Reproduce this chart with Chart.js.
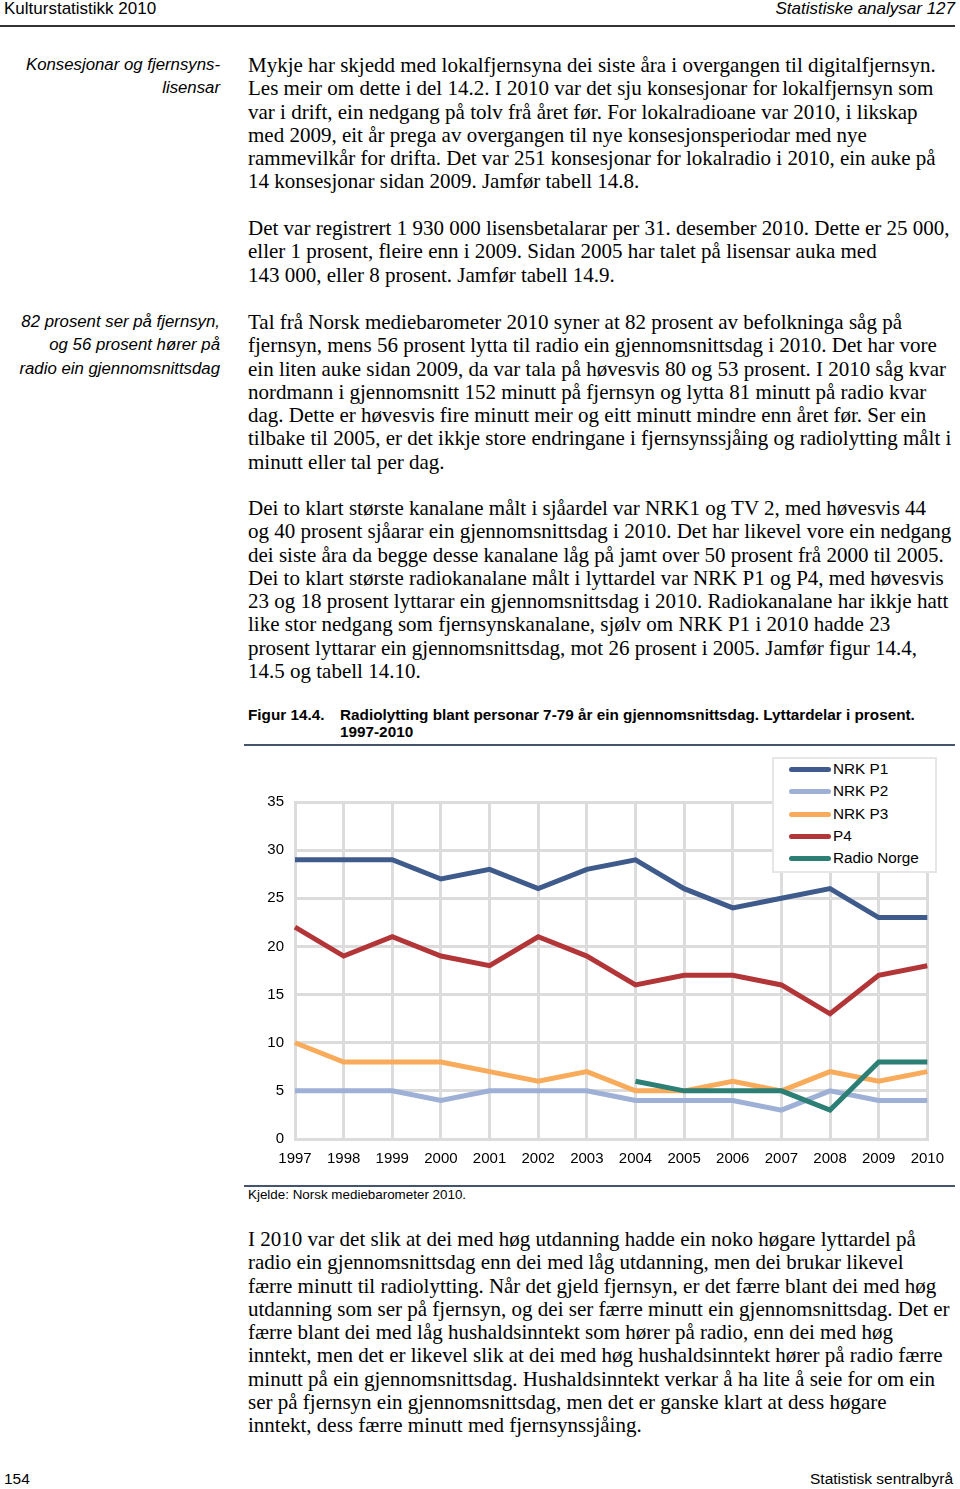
<!DOCTYPE html>
<html>
<head>
<meta charset="utf-8">
<script src="https://cdn.jsdelivr.net/npm/chart.js@4/dist/chart.umd.min.js"></script>
<style>
  html, body { margin: 0; padding: 0; background: #fff; }
  body { width: 960px; height: 1489px; position: relative; overflow: hidden; color: #000; }
  .hdr { position: absolute; top: 0; font: 17px "Liberation Sans Narrow", "Arial Narrow", "Liberation Sans", Arial, sans-serif; line-height: 17px; }
  .rule { position: absolute; left: 0; width: 955px; height: 2px; background: #333; }
  .body { position: absolute; left: 248px; font: 21px "Liberation Serif", "Times New Roman", serif; line-height: 23.3px; white-space: nowrap; }
  .note { position: absolute; right: 740px; text-align: right; font: italic 16.8px "Liberation Sans", Arial, sans-serif; line-height: 23.3px; white-space: nowrap; }
  .figtitle { position: absolute; top: 706px; font: bold 15.3px "Liberation Sans", Arial, sans-serif; line-height: 17px; }
  .figrule { position: absolute; left: 244px; width: 711px; height: 2px; background: #44546a; }
  .src { position: absolute; left: 248px; top: 1187px; font: 13.4px "Liberation Sans", Arial, sans-serif; line-height: 16px; }
  #chartBox { position: absolute; left: 244px; top: 750px; width: 711px; height: 430px; }
  #legend { position: absolute; left: 772px; top: 757px; width: 161px; height: 112px; border: 2px solid #e6e6e6; background: #fff; }
  .lg { position: absolute; left: 0; height: 22px; font: 15.3px "Liberation Sans", Arial, sans-serif; line-height: 22px; }
  .lg i { position: absolute; left: 15px; top: 8px; width: 42px; height: 5px; border-radius: 3px; }
  .lg span { position: absolute; left: 59px; top: -1px; white-space: nowrap; }
  .foot { position: absolute; top: 1470px; font: 15.5px "Liberation Sans Narrow", "Arial Narrow", "Liberation Sans", Arial, sans-serif; line-height: 18px; }
</style>
</head>
<body>

<div class="hdr" style="left:4px;">Kulturstatistikk 2010</div>
<div class="hdr" style="right:5px;font-style:italic;">Statistiske analysar 127</div>
<div class="rule" style="top:25px;"></div>

<div class="note" style="top:53px;">Konsesjonar og fjernsyns-<br>lisensar</div>
<div class="note" style="top:310px;">82 prosent ser på fjernsyn,<br>og 56 prosent hører på<br>radio ein gjennomsnittsdag</div>

<div class="body" style="top:54px;">Mykje har skjedd med lokalfjernsyna dei siste åra i overgangen til digitalfjernsyn.<br>Les meir om dette i del 14.2. I 2010 var det sju konsesjonar for lokalfjernsyn som<br>var i drift, ein nedgang på tolv frå året før. For lokalradioane var 2010, i likskap<br>med 2009, eit år prega av overgangen til nye konsesjonsperiodar med nye<br>rammevilkår for drifta. Det var 251 konsesjonar for lokalradio i 2010, ein auke på<br>14 konsesjonar sidan 2009. Jamfør tabell 14.8.</div>

<div class="body" style="top:217px;">Det var registrert 1 930 000 lisensbetalarar per 31. desember 2010. Dette er 25 000,<br>eller 1 prosent, fleire enn i 2009. Sidan 2005 har talet på lisensar auka med<br>143 000, eller 8 prosent. Jamfør tabell 14.9.</div>

<div class="body" style="top:311px;">Tal frå Norsk mediebarometer 2010 syner at 82 prosent av befolkninga såg på<br>fjernsyn, mens 56 prosent lytta til radio ein gjennomsnittsdag i 2010. Det har vore<br>ein liten auke sidan 2009, da var tala på høvesvis 80 og 53 prosent. I 2010 såg kvar<br>nordmann i gjennomsnitt 152 minutt på fjernsyn og lytta 81 minutt på radio kvar<br>dag. Dette er høvesvis fire minutt meir og eitt minutt mindre enn året før. Ser ein<br>tilbake til 2005, er det ikkje store endringane i fjernsynssjåing og radiolytting målt i<br>minutt eller tal per dag.</div>

<div class="body" style="top:497px;">Dei to klart største kanalane målt i sjåardel var NRK1 og TV 2, med høvesvis 44<br>og 40 prosent sjåarar ein gjennomsnittsdag i 2010. Det har likevel vore ein nedgang<br>dei siste åra da begge desse kanalane låg på jamt over 50 prosent frå 2000 til 2005.<br>Dei to klart største radiokanalane målt i lyttardel var NRK P1 og P4, med høvesvis<br>23 og 18 prosent lyttarar ein gjennomsnittsdag i 2010. Radiokanalane har ikkje hatt<br>like stor nedgang som fjernsynskanalane, sjølv om NRK P1 i 2010 hadde 23<br>prosent lyttarar ein gjennomsnittsdag, mot 26 prosent i 2005. Jamfør figur 14.4,<br>14.5 og tabell 14.10.</div>

<div class="figtitle" style="left:248px;">Figur 14.4.</div>
<div class="figtitle" style="left:340px;">Radiolytting blant personar 7-79 år ein gjennomsnittsdag. Lyttardelar i prosent.<br>1997-2010</div>
<div class="figrule" style="top:744px;"></div>

<div id="chartBox"><canvas id="radioChart"></canvas></div>
<div id="legend"></div>

<div class="figrule" style="top:1185px;"></div>
<div class="src">Kjelde: Norsk mediebarometer 2010.</div>

<div class="body" style="top:1228px;">I 2010 var det slik at dei med høg utdanning hadde ein noko høgare lyttardel på<br>radio ein gjennomsnittsdag enn dei med låg utdanning, men dei brukar likevel<br>færre minutt til radiolytting. Når det gjeld fjernsyn, er det færre blant dei med høg<br>utdanning som ser på fjernsyn, og dei ser færre minutt ein gjennomsnittsdag. Det er<br>færre blant dei med låg hushaldsinntekt som hører på radio, enn dei med høg<br>inntekt, men det er likevel slik at dei med høg hushaldsinntekt hører på radio færre<br>minutt på ein gjennomsnittsdag. Hushaldsinntekt verkar å ha lite å seie for om ein<br>ser på fjernsyn ein gjennomsnittsdag, men det er ganske klart at dess høgare<br>inntekt, dess færre minutt med fjernsynssjåing.</div>

<div class="foot" style="left:4px;">154</div>
<div class="foot" style="right:7px;">Statistisk sentralbyrå</div>

<script>
/* Figur 14.4 — lyttardelar i prosent */
const years = ['1997', '1998', '1999', '2000', '2001', '2002', '2003', '2004', '2005', '2006', '2007', '2008', '2009', '2010'];
const seriesNames = ['NRK P1', 'NRK P2', 'NRK P3', 'P4', 'Radio Norge'];
const nrkP1 = [29, 29, 29, 27, 28, 26, 28, 29, 26, 24, 25, 26, 23, 23];
const nrkP2 = [5, 5, 5, 4, 5, 5, 5, 4, 4, 4, 3, 5, 4, 4];
const nrkP3 = [10, 8, 8, 8, 7, 6, 7, 5, 5, 6, 5, 7, 6, 7];
const p4 = [22, 19, 21, 19, 18, 21, 19, 16, 17, 17, 16, 13, 17, 18];
const radioNorge = [null, null, null, null, null, null, null, 6, 5, 5, 5, 3, 8, 8];
const yTicks = [0, 5, 10, 15, 20, 25, 30, 35];

const seriesValues = [nrkP1, nrkP2, nrkP3, p4, radioNorge];
const seriesColors = ['#3f5b8c', '#9eb0d6', '#f9ab5c', '#b23638', '#2c7f74'];

// legend
const legendEl = document.getElementById('legend');
seriesNames.forEach((name, i) => {
  const row = document.createElement('div');
  row.className = 'lg';
  row.style.top = (i * 22.3) + 'px';
  row.innerHTML = `<i style="background:${seriesColors[i]}"></i><span>${name}</span>`;
  legendEl.appendChild(row);
});

const ctx = document.getElementById('radioChart');
new Chart(ctx, {
  type: 'line',
  data: {
    labels: years,
    datasets: seriesNames.map((name, i) => ({
      label: name,
      data: seriesValues[i],
      borderColor: seriesColors[i],
      backgroundColor: seriesColors[i],
      borderWidth: 5,
      pointRadius: 0,
      tension: 0,
      spanGaps: false,
      order: seriesNames.length - i
    }))
  },
  options: {
    responsive: true,
    maintainAspectRatio: false,
    animation: false,
    layout: { padding: { top: 52, right: 27, left: 0, bottom: 0 } },
    plugins: {
      legend: { display: false },
      tooltip: { enabled: false }
    },
    scales: {
      x: {
        offset: false,
        grid: { color: '#dcdcdc', lineWidth: 3, drawTicks: false },
        border: { color: '#dcdcdc', width: 3 },
        ticks: { color: '#000', font: { family: 'Liberation Sans, Arial', size: 15 }, padding: 11, maxRotation: 0, autoSkip: false },
        afterFit: (s) => { s.height = 41; }
      },
      y: {
        min: 0,
        max: 35,
        afterBuildTicks: (s) => { s.ticks = yTicks.map(v => ({ value: v })); },
        grid: { color: '#dcdcdc', lineWidth: 3, drawTicks: false },
        border: { color: '#dcdcdc', width: 3 },
        ticks: { color: '#000', font: { family: 'Liberation Sans, Arial', size: 15 }, padding: 11 },
        afterFit: (s) => { s.width = 51; }
      }
    }
  }
});
</script>
</body>
</html>
